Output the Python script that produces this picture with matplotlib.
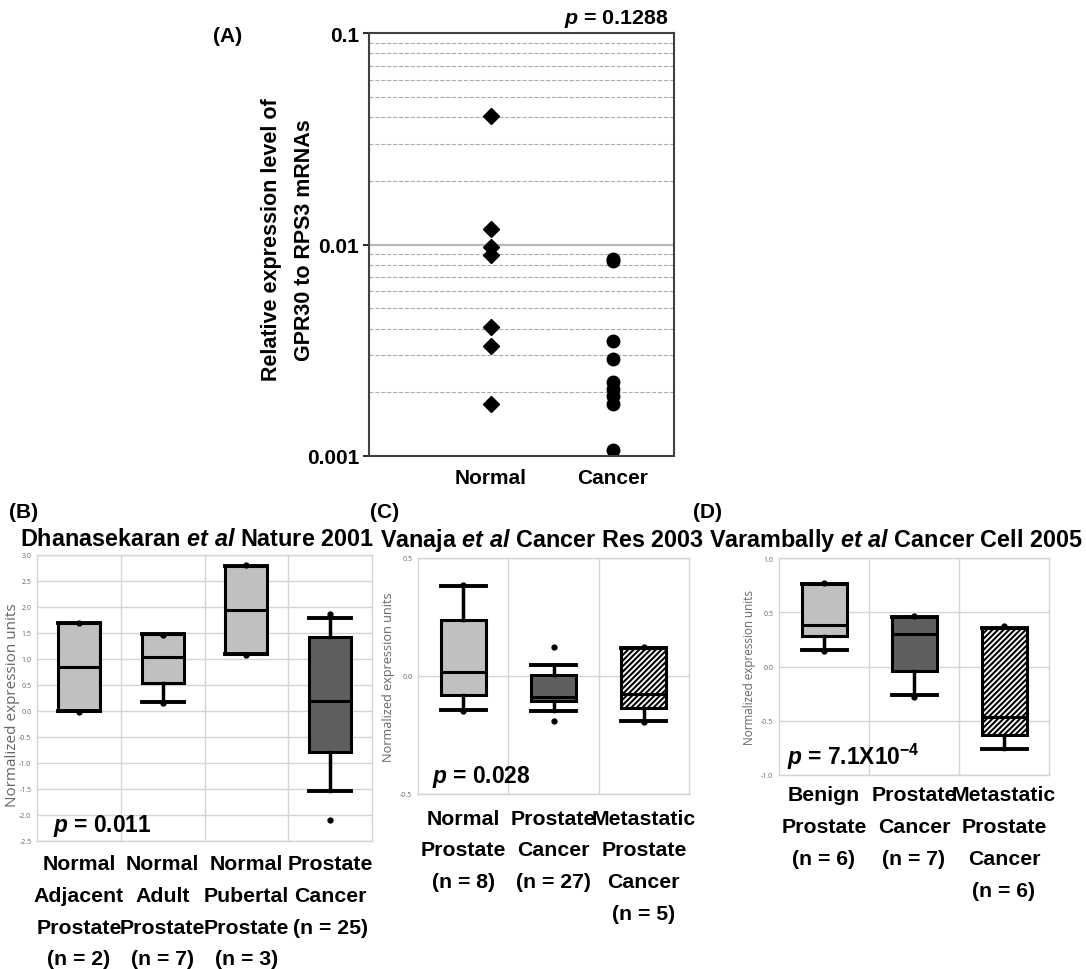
import matplotlib
matplotlib.use("Agg")
import matplotlib.pyplot as plt

W, H = 1086, 970
plt.rcParams['font.family'] = ['Liberation Sans', 'DejaVu Sans']
plt.rcParams['font.weight'] = 'bold'
plt.rcParams['mathtext.fontset'] = 'custom'
plt.rcParams['mathtext.rm'] = 'Liberation Sans:bold'
plt.rcParams['mathtext.it'] = 'Liberation Sans:italic:bold'
plt.rcParams['mathtext.bf'] = 'Liberation Sans:bold'
plt.rcParams['hatch.linewidth'] = 1.5

# --- panel A: qPCR scatter ---
a_groups = ["Normal", "Cancer"]
a_normal = [0.0404, 0.0118, 0.0097, 0.0089, 0.00409, 0.00332, 0.00177]
a_cancer = [0.00850, 0.00835, 0.00351, 0.00288, 0.00223, 0.00207, 0.00193, 0.00177, 0.00107]

# --- panel B: Dhanasekaran ---
b_labels = ["Normal\nAdjacent\nProstate\n(n = 2)", "Normal\nAdult\nProstate\n(n = 7)",
            "Normal\nPubertal\nProstate\n(n = 3)", "Prostate\nCancer\n(n = 25)"]
b_q1 = [0.0, 0.53, 1.10, -0.79]
b_med = [0.85, 1.04, 1.94, 0.19]
b_q3 = [1.69, 1.48, 2.79, 1.42]
b_lo = [0.0, 0.18, 1.10, -1.54]
b_hi = [1.69, 1.48, 2.79, 1.78]
b_pts = [[1.70, -0.01], [1.46, 0.16], [2.80, 1.08], [1.86, -2.09]]
b_fill = ['light', 'light', 'light', 'dark']

# --- panel C: Vanaja ---
c_labels = ["Normal\nProstate\n(n = 8)", "Prostate\nCancer\n(n = 27)",
            "Metastatic\nProstate\nCancer\n(n = 5)"]
c_q1 = [-0.08, -0.107, -0.135]
c_med = [0.016, -0.09, -0.078]
c_q3 = [0.238, 0.005, 0.12]
c_lo = [-0.142, -0.149, -0.192]
c_hi = [0.383, 0.047, 0.12]
c_pts = [[0.387, -0.15], [0.122, -0.192], [0.125, -0.196]]
c_fill = ['light', 'dark', 'hatch']

# --- panel D: Varambally ---
d_labels = ["Benign\nProstate\n(n = 6)", "Prostate\nCancer\n(n = 7)",
            "Metastatic\nProstate\nCancer\n(n = 6)"]
d_q1 = [0.278, -0.04, -0.63]
d_med = [0.383, 0.296, -0.463]
d_q3 = [0.762, 0.454, 0.355]
d_lo = [0.154, -0.265, -0.756]
d_hi = [0.762, 0.454, 0.355]
d_pts = [[0.77, 0.145], [0.47, -0.278], [0.377]]
d_fill = ['light', 'dark', 'hatch']

FILLS = {'light': '#c0c0c0', 'dark': '#5f5f5f', 'hatch': 'white'}
LABEL_SIZE = 15.3
LINE_SP = 1.85


def rect(x0, y0, x1, y1):
    return [x0 / W, 1 - y1 / H, (x1 - x0) / W, (y1 - y0) / H]


def ftext(x, y, s, **kw):
    fig.text(x / W, 1 - y / H, s, **kw)


fig = plt.figure(figsize=(W / 100, H / 100), dpi=100)

# ---------------- panel A ----------------
ax = fig.add_axes(rect(369, 34, 674, 457))
xa = [1 + i for i in range(len(a_groups))]
ax.plot([xa[0]] * len(a_normal), a_normal, 'D', color='black', ms=8.5, ls='none')
ax.plot([xa[1]] * len(a_cancer), a_cancer, 'o', color='black', ms=9, ls='none')
ax.set_yscale('log')
ax.set_ylim(0.001, 0.1)
ax.set_xlim(0, 2.5)
ax.set_yticks([0.001, 0.01, 0.1], ["0.001", "0.01", "0.1"])
ax.yaxis.set_minor_formatter(plt.NullFormatter())
ax.tick_params(axis='y', which='minor', length=0)
ax.tick_params(axis='y', which='major', length=4, width=1.2, labelsize=15, pad=3)
ax.set_xticks(xa, a_groups)
ax.tick_params(axis='x', length=0, labelsize=15, pad=9)
ax.grid(True, which='minor', axis='y', ls='--', color='#aaaaaa', lw=0.8)
ax.axhline(0.01, color='#b8b8b8', lw=1.6, zorder=0)
for s in ax.spines.values():
    s.set_color('#404040')
    s.set_linewidth(1.5)
ftext(288, 240, "Relative expression level of\nGPR30 to RPS3 mRNAs", rotation=90,
      ha='center', va='center', fontsize=15.5, linespacing=1.75)
ftext(228, 37, "(A)", ha='center', va='center', fontsize=15)
ftext(669, 19, r"$\mathit{p}$ = 0.1288", ha='right', va='center', fontsize=15.4)


# ---------------- box panels ----------------
def box_panel(box, q1, med, q3, lo, hi, pts, fills, labels, ylim, yticks, ylab_size, pad):
    ax = fig.add_axes(rect(*box))
    n = len(q1)
    pos = [i + 0.5 for i in range(n)]
    stats = []
    for i in range(n):
        stats.append(dict(q1=q1[i], med=med[i], q3=q3[i], whislo=lo[i], whishi=hi[i],
                          fliers=pts[i]))
    bp = ax.bxp(stats, positions=pos, widths=0.5, capwidths=0.5, patch_artist=True,
                boxprops=dict(lw=2.2, edgecolor='black'),
                medianprops=dict(color='black', lw=2.2),
                whiskerprops=dict(color='black', lw=2.5),
                capprops=dict(color='black', lw=2.8),
                flierprops=dict(marker='o', markerfacecolor='black', markeredgecolor='black',
                                markersize=3.5))
    for patch, f in zip(bp['boxes'], fills):
        patch.set_facecolor(FILLS[f])
        if f == 'hatch':
            patch.set_hatch('//////')
    ax.set_xlim(0, n)
    ax.set_ylim(*ylim)
    ax.set_yticks(yticks, ["%.1f" % t for t in yticks])
    ax.set_xticks([i for i in range(1, n)], minor=True)
    ax.set_xticks(pos, labels)
    ax.tick_params(axis='x', which='both', length=0, labelsize=LABEL_SIZE, pad=pad)
    for t in ax.get_xticklabels():
        t.set_linespacing(LINE_SP)
    ax.tick_params(axis='y', length=0, labelsize=5, labelcolor='#666666', pad=4)
    for t in ax.get_yticklabels():
        t.set_family(['Open Sans', 'DejaVu Sans'])
        t.set_fontweight('normal')
    ax.grid(True, which='major', axis='y', color='#d4d4d4', lw=1)
    ax.grid(True, which='minor', axis='x', color='#d4d4d4', lw=1)
    ax.set_axisbelow(True)
    for s in ax.spines.values():
        s.set_color('#d4d4d4')
        s.set_linewidth(1)
    ax.set_ylabel("Normalized expression units", fontsize=ylab_size, color='#666666',
                  family=['Open Sans', 'DejaVu Sans'], fontweight='normal', labelpad=4)
    return ax


axb = box_panel((37, 556, 372, 842), b_q1, b_med, b_q3, b_lo, b_hi, b_pts, b_fill, b_labels,
                (-2.5, 3.0), [3.0 - 0.5 * k for k in range(12)], 11, 9.5)
axb.yaxis.set_label_coords(-0.051, 0.48)
box_panel((418, 559, 689, 795), c_q1, c_med, c_q3, c_lo, c_hi, c_pts, c_fill, c_labels,
          (-0.5, 0.5), [0.5, 0.0, -0.5], 9.1, 10.5)
box_panel((779, 559, 1049, 776), d_q1, d_med, d_q3, d_lo, d_hi, d_pts, d_fill, d_labels,
          (-1.0, 1.0), [1.0, 0.5, 0.0, -0.5, -1.0], 8.4, 7.5)

# titles
ftext(9, 513, "(B)", ha='left', va='center', fontsize=15)
ftext(20, 540, r"Dhanasekaran $\mathit{et\ al}$ Nature 2001", ha='left', va='center', fontsize=16.8)
ftext(370, 513, "(C)", ha='left', va='center', fontsize=15)
ftext(380, 540, r"Vanaja $\mathit{et\ al}$ Cancer Res 2003", ha='left', va='center', fontsize=16.8)
ftext(693, 513, "(D)", ha='left', va='center', fontsize=15)
ftext(709, 540, r"Varambally $\mathit{et\ al}$ Cancer Cell 2005", ha='left', va='center', fontsize=16.8)

# p values
ftext(53, 826, r"$\mathit{p}$ = 0.011", ha='left', va='center', fontsize=16.4)
ftext(432, 777, r"$\mathit{p}$ = 0.028", ha='left', va='center', fontsize=16.4)
ftext(787, 757, r"$\mathit{p}$ = 7.1X10$^{-4}$", ha='left', va='center', fontsize=16.4)

fig.savefig("out.png", dpi=100)
